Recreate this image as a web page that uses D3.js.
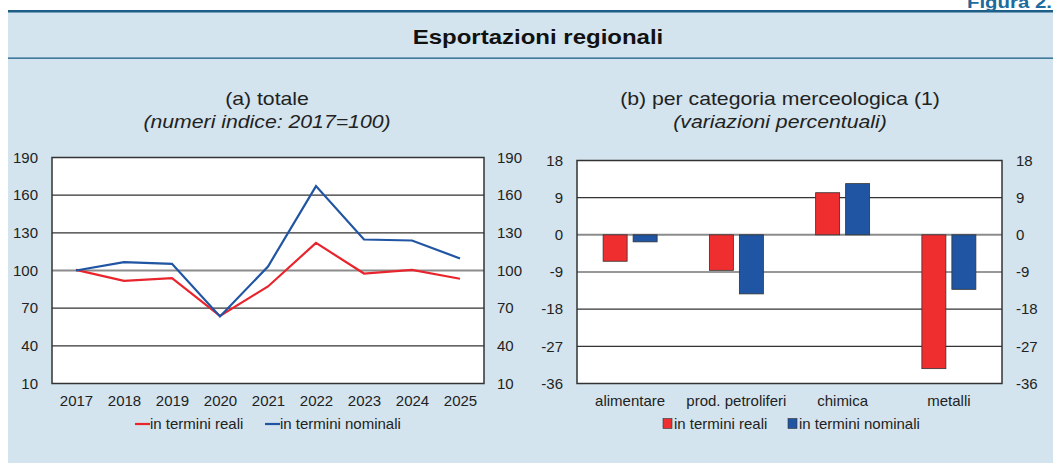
<!DOCTYPE html>
<html>
<head>
<meta charset="utf-8">
<script src="https://cdn.jsdelivr.net/npm/d3@7"></script>
<style>
  body { margin: 0; background: #fff; }
  svg { display: block; font-family: "Liberation Sans", Arial, sans-serif; }
</style>
</head>
<body>
<svg id="chart" width="1053" height="463"></svg>
<script>
// data
var years = ['2017', '2018', '2019', '2020', '2021', '2022', '2023', '2024', '2025'];
var reali = [100.5, 91.8, 93.9, 63.9, 87.3, 122.0, 97.6, 100.5, 93.4];
var nominali = [100.0, 106.6, 105.3, 63.4, 103.2, 167.2, 124.7, 123.9, 109.6];
var leftTicks = [10, 40, 70, 100, 130, 160, 190];

var categorie = ['alimentare', 'prod. petroliferi', 'chimica', 'metalli'];
var realiCat = [-6.4, -8.6, 10.2, -32.4];
var nominaliCat = [-1.7, -14.3, 12.4, -13.2];
var rightTicks = [-36, -27, -18, -9, 0, 9, 18];

var RED = '#ee2e2f', BLUE = '#1f55a3', TEAL = '#1d5f86';

var svg = d3.select('#chart');

// header + background
svg.append('rect').attr('x', 8).attr('y', 11).attr('width', 1045).attr('height', 452).attr('fill', '#d3e4ee');
svg.append('rect').attr('x', 8).attr('y', 10).attr('width', 1045).attr('height', 2.5).attr('fill', TEAL);
svg.append('rect').attr('x', 8).attr('y', 57.5).attr('width', 1045).attr('height', 1.3).attr('fill', TEAL);

// titles are a bit wider than the font, so stretch them horizontally
function stretched(x, y, sx, txt, size, extra) {
  var t = svg.append('text').attr('transform', 'translate(' + x + ',' + y + ') scale(' + sx + ',1)')
    .attr('font-size', size).attr('fill', '#222').text(txt);
  if (extra) extra(t);
  return t;
}
stretched(967, 8, 1.2, 'Figura 2.', 17, function(t) { t.attr('font-weight', 'bold').attr('fill', '#1d6a9c'); });
stretched(538, 44, 1.2, 'Esportazioni regionali', 20, function(t) {
  t.attr('font-weight', 'bold').attr('fill', '#111').attr('text-anchor', 'middle');
});

function subtitles(cx, t1, t2) {
  stretched(cx, 105, 1.18, t1, 18, function(t) { t.attr('text-anchor', 'middle'); });
  stretched(cx, 128, 1.18, t2, 18, function(t) { t.attr('text-anchor', 'middle').attr('font-style', 'italic'); });
}
subtitles(267, '(a) totale', '(numeri indice: 2017=100)');
subtitles(780, '(b) per categoria merceologica (1)', '(variazioni percentuali)');

function frame(g, x0, x1, y, ticks, zero, labL, labR) {
  g.append('rect').attr('x', x0).attr('y', y.range()[1]).attr('width', x1 - x0)
    .attr('height', y.range()[0] - y.range()[1]).attr('fill', '#fff');
  g.selectAll('line.grid').data(ticks).enter().append('line')
    .attr('x1', x0).attr('x2', x1)
    .attr('y1', function(d) { return y(d); }).attr('y2', function(d) { return y(d); })
    .attr('stroke', function(d) { return d === zero ? '#8c8c8c' : '#333'; })
    .attr('stroke-width', function(d) { return d === zero ? 2 : 1.2; });
  g.append('g').attr('transform', 'translate(' + labL + ',0)')
    .call(d3.axisLeft(y).tickValues(ticks).tickFormat(String).tickSize(0).tickPadding(0))
    .call(function(a) { a.select('.domain').remove(); });
  g.append('g').attr('transform', 'translate(' + labR + ',0)')
    .call(d3.axisRight(y).tickValues(ticks).tickFormat(String).tickSize(0).tickPadding(0))
    .call(function(a) { a.select('.domain').remove(); });
  g.selectAll('.tick text').attr('font-size', 15).attr('fill', '#222')
    .attr('font-family', '"Liberation Sans", Arial, sans-serif');
}

// (a) line chart
var gA = svg.append('g');
var xA = d3.scalePoint().domain(years).range([52, 484]).padding(0.5);
var yA = d3.scaleLinear().domain([10, 190]).range([383.5, 157.5]);
frame(gA, 52, 484, yA, leftTicks, 100, 38, 497);

var line = d3.line().x(function(d, i) { return xA(years[i]); }).y(function(d) { return yA(d); });
gA.append('path').datum(reali).attr('d', line).attr('fill', 'none').attr('stroke', '#e8252d').attr('stroke-width', 2.2);
gA.append('path').datum(nominali).attr('d', line).attr('fill', 'none').attr('stroke', BLUE).attr('stroke-width', 2.2);
gA.append('rect').attr('x', 52).attr('y', 157.5).attr('width', 432).attr('height', 226)
  .attr('fill', 'none').attr('stroke', '#333').attr('stroke-width', 1.5);

gA.append('g').attr('transform', 'translate(0,' + 383.5 + ')')
  .call(d3.axisBottom(xA).tickSize(0).tickPadding(12))
  .call(function(a) { a.select('.domain').remove(); })
  .selectAll('text').attr('font-size', 15).attr('fill', '#222')
  .attr('font-family', '"Liberation Sans", Arial, sans-serif');

// legend (a)
var legA = [{ label: 'in termini reali', c: '#e8252d', x: 135 }, { label: 'in termini nominali', c: BLUE, x: 265 }];
legA.forEach(function(l) {
  gA.append('line').attr('x1', l.x).attr('x2', l.x + 15).attr('y1', 424).attr('y2', 424)
    .attr('stroke', l.c).attr('stroke-width', 2.2);
  gA.append('text').attr('x', l.x + 15).attr('y', 429).attr('font-size', 15).attr('fill', '#222').text(l.label);
});

// (b) bar chart
var gB = svg.append('g');
var xB = d3.scaleBand().domain(categorie).range([577, 1002]);
var yB = d3.scaleLinear().domain([-36, 18]).range([383.5, 160.5]);
frame(gB, 577, 1002, yB, rightTicks, 0, 563, 1016);

var series = [{ vals: realiCat, c: RED, off: -27 }, { vals: nominaliCat, c: BLUE, off: 3 }];
series.forEach(function(s) {
  gB.selectAll(null).data(s.vals).enter().append('rect')
    .attr('x', function(d, i) { return xB(categorie[i]) + xB.bandwidth() / 2 + s.off; })
    .attr('y', function(d) { return yB(Math.max(0, d)); })
    .attr('width', 24)
    .attr('height', function(d) { return Math.abs(yB(d) - yB(0)); })
    .attr('fill', s.c).attr('stroke', '#333').attr('stroke-width', 0.8);
});
gB.append('rect').attr('x', 577).attr('y', 160.5).attr('width', 425).attr('height', 223)
  .attr('fill', 'none').attr('stroke', '#333').attr('stroke-width', 1.5);

gB.append('g').attr('transform', 'translate(0,' + 383.5 + ')')
  .call(d3.axisBottom(xB).tickSize(0).tickPadding(12))
  .call(function(a) { a.select('.domain').remove(); })
  .selectAll('text').attr('font-size', 15).attr('fill', '#222')
  .attr('font-family', '"Liberation Sans", Arial, sans-serif');

var legB = [{ label: 'in termini reali', c: RED, x: 663 }, { label: 'in termini nominali', c: BLUE, x: 788 }];
legB.forEach(function(l) {
  gB.append('rect').attr('x', l.x).attr('y', 418.5).attr('width', 9).attr('height', 10)
    .attr('fill', l.c).attr('stroke', '#333').attr('stroke-width', 0.6);
  gB.append('text').attr('x', l.x + 11).attr('y', 429).attr('font-size', 15).attr('fill', '#222').text(l.label);
});
</script>
</body>
</html>
